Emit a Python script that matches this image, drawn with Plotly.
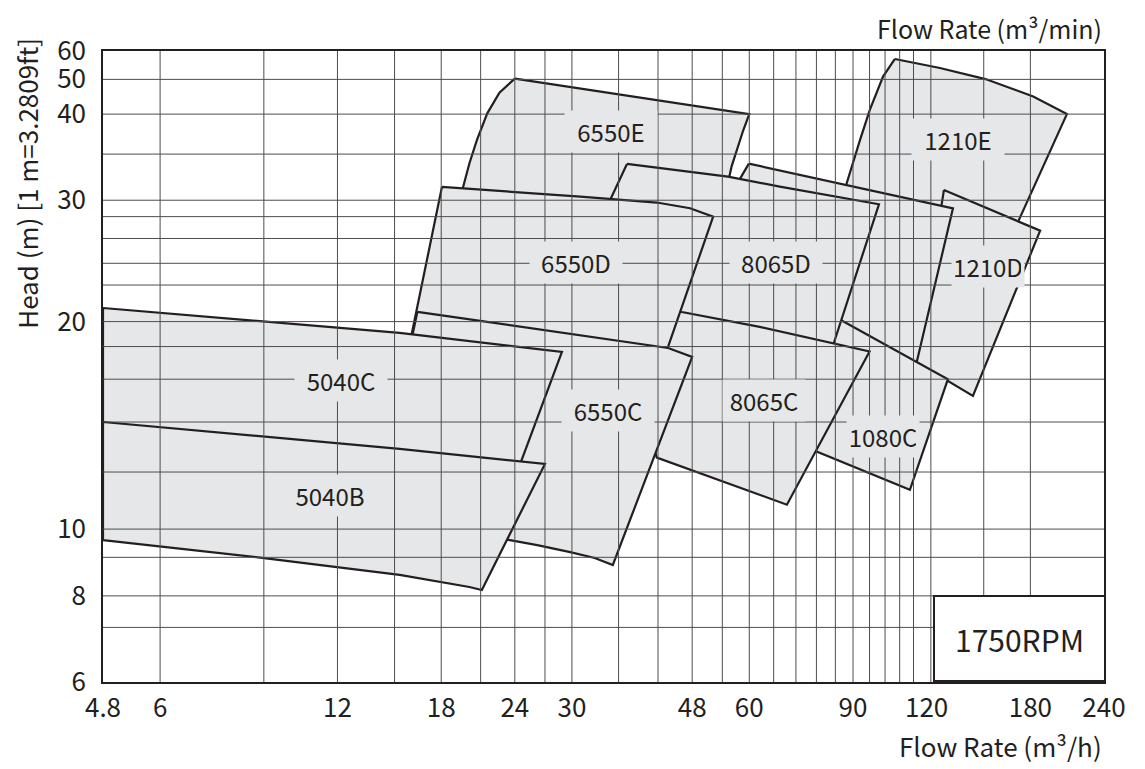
import numpy as np
import plotly.graph_objects as go

FONT = "Noto Sans CJK JP, Noto Sans, sans-serif"
INK = "#231f20"
FILL = "#e6e7e8"
GRID = "#4d4d4d"

# ---------------- data (flow m3/h, head m) ----------------
# drawn bottom -> top (later regions cover earlier outlines)
e6550_x = [24.0, 60.0, 58.6, 57.1, 56.0, 55.5, 54.6, 19.4, 19.6, 20.1, 20.7, 21.55, 22.6]
e6550_y = [50.25, 40.0, 37.9, 35.5, 33.6, 32.45, 28.1, 28.1, 31.3, 33.95, 36.7, 40.2, 45.9]

e1210_x = [106.0, 126.4, 151.0, 182.0, 207.6, 160.4, 81.6, 87.8, 92.5, 96.1, 101.2]
e1210_y = [57.0, 53.8, 50.1, 44.8, 40.0, 24.6, 24.6, 31.75, 36.7, 41.1, 50.9]

d1210_x = [128.4, 187.0, 143.8, 112.4, 121.5]
d1210_y = [31.05, 27.1, 15.6, 17.7, 23.0]

# unlabelled region between 8065D and 1210D
unl_x = [59.9, 133.0, 115.5, 110.7, 79.1, 53.9]
unl_y = [33.9, 29.2, 17.5, 14.9, 14.4, 29.05]

c1080_x = [79.1, 130.4, 112.4, 73.2]
c1080_y = [20.9, 16.5, 11.4, 13.25]

d8065_x = [37.2, 55.2, 67.6, 99.6, 83.5, 77.8, 39.1, 33.0]
d8065_y = [33.87, 32.46, 31.39, 29.6, 18.62, 15.39, 16.46, 27.2]

c8065_x = [44.0, 46.1, 62.5, 96.0, 69.5, 41.8, 39.1]
c8065_y = [20.85, 20.65, 19.65, 18.1, 10.85, 12.7, 15.4]

d6550_x = [18.05, 24.0, 31.0, 41.8, 47.6, 52.1, 41.5, 15.4]
d6550_y = [31.36, 30.84, 30.37, 29.77, 29.21, 28.4, 16.2, 16.2]

c6550_x = [16.4, 43.7, 48.0, 35.2, 32.8, 29.8, 26.2, 23.55, 20.9, 15.0]
c6550_y = [20.66, 18.31, 17.77, 8.87, 9.08, 9.26, 9.48, 9.64, 9.77, 14.4]

c5040_x = [4.8, 15.3, 28.85, 23.6, 4.8]
c5040_y = [20.93, 19.26, 18.07, 11.4, 11.4]

b5040_x = [4.8, 15.3, 27.0, 21.1, 20.1, 15.3, 9.08, 4.8]
b5040_y = [14.3, 13.07, 12.43, 8.16, 8.24, 8.58, 9.07, 9.64]

regions = [
    ("6550E", e6550_x, e6550_y),
    ("1210E", e1210_x, e1210_y),
    ("1210D", d1210_x, d1210_y),
    ("", unl_x, unl_y),
    ("1080C", c1080_x, c1080_y),
    ("8065D", d8065_x, d8065_y),
    ("8065C", c8065_x, c8065_y),
    ("6550D", d6550_x, d6550_y),
    ("6550C", c6550_x, c6550_y),
    ("5040C", c5040_x, c5040_y),
    ("5040B", b5040_x, b5040_y),
]

label_names = ["6550E", "1210E", "6550D", "8065D", "1210D", "5040C", "6550C", "8065C", "1080C", "5040B"]
label_x = [35.0, 135.8, 30.5, 66.7, 152.5, 12.15, 34.5, 63.6, 101.3, 11.64]
label_y = [37.7, 36.8, 24.4, 24.4, 24.05, 16.43, 14.85, 15.35, 13.62, 11.2]
label_w = [86, 86, 86, 86, 66, 86, 86, 76, 66, 86]

x_tick_vals = [4.8, 6, 12, 18, 24, 30, 48, 60, 90, 120, 180, 240]
y_tick_vals = [6, 8, 10, 20, 30, 40, 50, 60]
x_grid = [6, 9, 12, 15, 18, 21, 24, 27, 30, 36, 42, 48, 54, 60, 66, 72, 78, 84,
          90, 96, 102, 108, 114, 122, 150, 180]
y_grid = [7.2, 8, 9.1, 10, 12.1, 14.3, 16.5, 18.4, 20, 22.6, 24.3, 26.4, 28.4,
          30, 35, 40, 50]

X_MIN, X_MAX = 4.8, 240
Y_MIN, Y_MAX = 6, 60


# head scale of the chart: logarithmic up to 40 m, compressed above 40 m
def head_t(h):
    h = np.asarray(h, dtype=float)
    return np.where(h <= 40, np.log(h), np.log(40) + 0.52 * np.log(h / 40))


fig = go.Figure()

for name, xs, ys in regions:
    fig.add_trace(go.Scatter(
        x=list(xs) + [xs[0]], y=list(head_t(list(ys) + [ys[0]])),
        mode="lines", fill="toself", fillcolor=FILL,
        line=dict(color=INK, width=2.2), name=name,
        hoverinfo="skip", showlegend=False))

# grid drawn above the shaded regions (as in the reference)
gx, gy = [], []
for v in x_grid:
    gx += [v, v, None]
    gy += [float(head_t(Y_MIN)), float(head_t(Y_MAX)), None]
for v in y_grid:
    gx += [X_MIN, X_MAX, None]
    gy += [float(head_t(v)), float(head_t(v)), None]
fig.add_trace(go.Scatter(x=gx, y=gy, mode="lines",
                         line=dict(color=GRID, width=1),
                         hoverinfo="skip", showlegend=False))

annotations = []
for n, lx, ly, w in zip(label_names, label_x, label_y, label_w):
    annotations.append(dict(
        x=float(np.log10(lx)), y=float(head_t(ly)), xref="x", yref="y",
        text=n, showarrow=False, bgcolor=FILL, width=w, borderpad=3,
        font=dict(family=FONT, size=24, color=INK)))

annotations += [
    dict(text="Head (m) [1 m=3.2809ft]", textangle=-90, xref="paper", yref="paper",
         x=-0.076, y=0.791, xanchor="center", yanchor="middle", showarrow=False,
         font=dict(family=FONT, size=26, color=INK)),
    dict(text="Flow Rate (m³/min)", xref="paper", yref="paper",
         x=1.0, y=1.037, xanchor="right", yanchor="middle", showarrow=False,
         font=dict(family=FONT, size=25, color=INK)),
    dict(text="Flow Rate (m³/h)", xref="paper", yref="paper",
         x=1.0, y=-0.101, xanchor="right", yanchor="middle", showarrow=False,
         font=dict(family=FONT, size=26, color=INK)),
    dict(text="1750RPM", xref="paper", yref="paper",
         x=1.002, y=0.0, xanchor="right", yanchor="bottom", showarrow=False,
         bgcolor="white", bordercolor=INK, borderwidth=2, borderpad=0,
         width=169, height=83,
         font=dict(family=FONT, size=30, color=INK)),
]

# the page adds an 8 px body margin (left/top), so the figure is 8 px smaller
fig.update_layout(
    width=1137, height=761,
    margin=dict(l=95, r=41, t=43, b=87),
    paper_bgcolor="white", plot_bgcolor="white",
    font=dict(family=FONT, size=24, color=INK),
    showlegend=False,
    annotations=annotations,
    xaxis=dict(type="log", range=[np.log10(X_MIN), np.log10(X_MAX)],
               tickvals=x_tick_vals, ticktext=[f"{v:g}" for v in x_tick_vals],
               showgrid=False, zeroline=False, showline=True, mirror=True,
               linecolor=INK, linewidth=1.5, ticks="",
               ticklabelstandoff=2,
               tickfont=dict(family=FONT, size=26, color=INK)),
    yaxis=dict(type="linear", range=[float(head_t(Y_MIN)), float(head_t(Y_MAX))],
               tickvals=[float(v) for v in head_t(y_tick_vals)],
               ticktext=[str(v) for v in y_tick_vals],
               showgrid=False, zeroline=False, showline=True, mirror=True,
               linecolor=INK, linewidth=1.5, ticks="",
               ticklabelstandoff=10,
               tickfont=dict(family=FONT, size=26, color=INK)),
)

fig.write_html("out.html")
